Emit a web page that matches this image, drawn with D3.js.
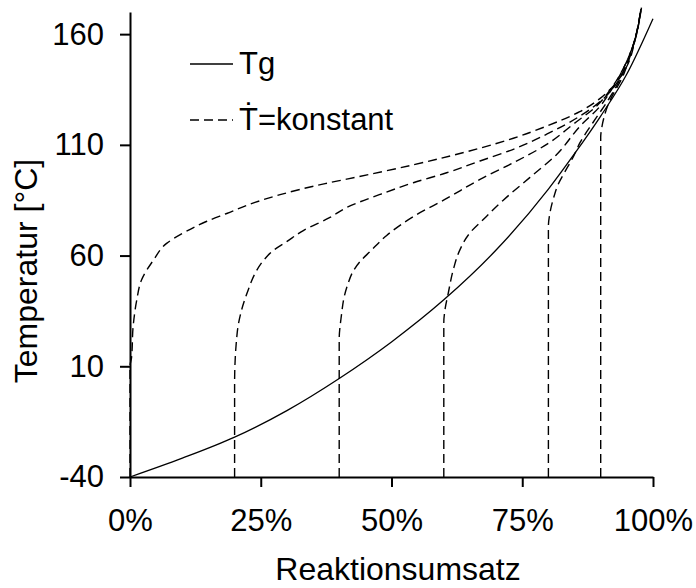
<!DOCTYPE html>
<html>
<head>
<meta charset="utf-8">
<script src="https://cdn.jsdelivr.net/npm/d3@7"></script>
<style>
  html, body { margin: 0; padding: 0; background: #fff; }
  svg text { font-family: "Liberation Sans", Arial, Helvetica, sans-serif; fill: #000; }
</style>
</head>
<body>
<svg id="chart" width="696" height="588"></svg>
<script>
// Glass transition temperature Tg versus degree of cure
const tgConv = [0, 0.1, 0.2, 0.3, 0.4, 0.5, 0.6, 0.7, 0.8, 0.85, 0.9, 0.95, 1.0];
const tgTemp = [-40, -31.5, -22, -10, 4.5, 21, 40, 62.5, 90, 106, 123, 142, 167];

// Constant heating-rate runs, each starting at a different initial conversion
const conv00 = [0, 0, 0.003, 0.006, 0.013, 0.022, 0.045, 0.07, 0.108, 0.147, 0.185, 0.239, 0.287, 0.373, 0.414, 0.542, 0.669, 0.733, 0.797, 0.86, 0.899, 0.924, 0.95, 0.966, 0.978];
const temp00 = [-40, 10, 14, 28, 40, 49, 58, 65.5, 71, 75.5, 79, 84, 87.5, 92.5, 94.5, 101, 108.5, 113, 118.5, 125, 131, 136.5, 145.5, 157.5, 172];

const conv20 = [0.2, 0.2, 0.205, 0.2136, 0.2262, 0.239, 0.2549, 0.274, 0.2996, 0.3314, 0.3824, 0.4143, 0.478, 0.5417, 0.6055, 0.6692, 0.7329, 0.7967, 0.8604, 0.905, 0.933, 0.95, 0.9656, 0.977];
const temp20 = [-40, 2.5, 25.2, 35.6, 44.6, 51.9, 57.7, 62.3, 66.3, 71.3, 77.2, 81.7, 87.6, 92.9, 97.4, 102.7, 108, 114.8, 123, 130.8, 138.7, 146.9, 157.7, 171.3];

const conv40 = [0.4, 0.4, 0.4044, 0.4092, 0.4168, 0.4264, 0.4398, 0.4589, 0.4908, 0.5417, 0.6055, 0.6692, 0.7329, 0.7967, 0.8476, 0.8924, 0.9216, 0.9465, 0.9656, 0.977];
const temp40 = [-40, 22, 33.3, 41, 47.3, 52.8, 57.3, 61.8, 69.1, 77.6, 85.8, 94.4, 101.9, 110.2, 119.3, 127.6, 136, 146, 157.7, 171.3];

const conv60 = [0.6, 0.6, 0.6023, 0.6086, 0.6182, 0.631, 0.6501, 0.6755, 0.7132, 0.7648, 0.8159, 0.8604, 0.8987, 0.9235, 0.9465, 0.9656, 0.977];
const temp60 = [-40, 29.7, 35.6, 43.1, 53.7, 62.7, 70.3, 76.3, 84.9, 95.3, 105.7, 118.4, 127.4, 136, 146, 157.7, 171.3];

const conv80 = [0.8, 0.8, 0.8034, 0.8101, 0.8184, 0.8317, 0.847, 0.8604, 0.8853, 0.9114, 0.931, 0.9484, 0.9656, 0.977];
const temp80 = [-40, 73.1, 79.8, 86.2, 92, 97.9, 104.3, 111, 120.1, 129.2, 136.9, 145.9, 157.7, 171.3];

const conv90 = [0.9, 0.9, 0.9025, 0.9063, 0.913, 0.9216, 0.9312, 0.9407, 0.9503, 0.9656, 0.977];
const temp90 = [-40, 113.4, 118.4, 122.4, 127.4, 131.9, 136, 140.1, 145.9, 157.7, 171.3];

// Axis ticks and labels
const xTicks = [0, 0.25, 0.5, 0.75, 1];
const yTicks = [-40, 10, 60, 110, 160];
const xTitle = "Reaktionsumsatz";
const yTitle = "Temperatur [°C]";
const legendTg = "Tg";
const legendRate = "\u1E6A=konstant"; // T with dot above: heating rate

const runs = [
  [conv00, temp00], [conv20, temp20], [conv40, temp40],
  [conv60, temp60], [conv80, temp80], [conv90, temp90]
].map(([c, t]) => c.map((v, i) => ({ conv: v, temp: t[i] })));
const tgPoints = tgConv.map((v, i) => ({ conv: v, temp: tgTemp[i] }));

const svg = d3.select("#chart");
const TICK_FONT = 31;
const TITLE_FONT = 32;

const x = d3.scaleLinear().domain([0, 1]).range([130, 653]);
const y = d3.scaleLinear().domain([-40, 170]).range([477, 12]);

// Heating-rate curves: temperature rises monotonically along each run
const runLine = d3.line()
  .x(d => x(d.conv))
  .y(d => y(d.temp))
  .curve(d3.curveMonotoneY);

svg.append("g")
  .selectAll("path")
  .data(runs)
  .join("path")
  .attr("d", runLine)
  .attr("fill", "none")
  .attr("stroke", "#000")
  .attr("stroke-width", 1.4)
  .attr("stroke-dasharray", "9,5");

// Tg curve
const tgLine = d3.line()
  .x(d => x(d.conv))
  .y(d => y(d.temp))
  .curve(d3.curveMonotoneX);

svg.append("path")
  .datum(tgPoints)
  .attr("d", tgLine)
  .attr("fill", "none")
  .attr("stroke", "#000")
  .attr("stroke-width", 1.3);

// Axes
const xAxis = svg.append("g")
  .attr("transform", `translate(0,${y(-40)})`)
  .call(d3.axisBottom(x).tickValues(xTicks).tickFormat(d3.format(".0%"))
    .tickSize(10).tickSizeOuter(0).tickPadding(22));

const yAxis = svg.append("g")
  .attr("transform", `translate(${x(0)},0)`)
  .call(d3.axisLeft(y).tickValues(yTicks).tickFormat(d => String(d))
    .tickSize(10).tickSizeOuter(0).tickPadding(16));

[xAxis, yAxis].forEach(g => {
  g.select(".domain").attr("stroke", "#000").attr("stroke-width", 2);
  g.selectAll(".tick line").attr("stroke", "#000").attr("stroke-width", 2);
  g.selectAll(".tick text").attr("font-size", TICK_FONT).attr("fill", "#000")
    .attr("font-family", '"Liberation Sans", Arial, sans-serif');
});

// Axis titles
svg.append("text")
  .attr("x", 398).attr("y", 580)
  .attr("text-anchor", "middle")
  .attr("font-size", TITLE_FONT)
  .text(xTitle);

svg.append("text")
  .attr("transform", "translate(37,271) rotate(-90)")
  .attr("text-anchor", "middle")
  .attr("font-size", TITLE_FONT)
  .text(yTitle);

// Legend
const legend = svg.append("g");
legend.append("line")
  .attr("x1", 190).attr("x2", 233).attr("y1", 64).attr("y2", 64)
  .attr("stroke", "#000").attr("stroke-width", 1.3);
legend.append("text")
  .attr("x", 239).attr("y", 74)
  .attr("font-size", TICK_FONT)
  .text(legendTg);

legend.append("line")
  .attr("x1", 190).attr("x2", 233).attr("y1", 120).attr("y2", 120)
  .attr("stroke", "#000").attr("stroke-width", 1.4)
  .attr("stroke-dasharray", "9,5");
legend.append("text")
  .attr("x", 239).attr("y", 130)
  .attr("font-size", TICK_FONT)
  .text(legendRate);
</script>
</body>
</html>
